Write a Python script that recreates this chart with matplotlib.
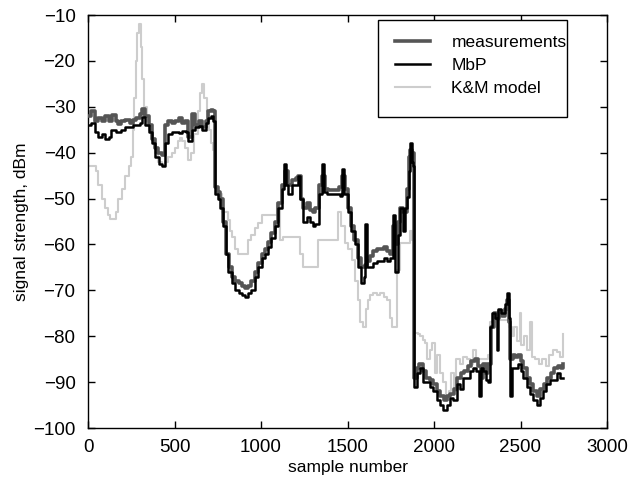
import matplotlib
matplotlib.use("Agg")
import matplotlib.pyplot as plt
from matplotlib.patches import Rectangle

plt.rcParams['font.family'] = ['Liberation Sans', 'DejaVu Sans']

meas_x = [0, 20, 40, 60, 80, 100, 120, 140, 160, 175, 190, 214, 240, 260, 280, 300, 315, 330, 350, 370,
          390, 405, 425, 445, 465, 485, 505, 525, 545, 561, 578, 600, 620, 640, 660, 680, 695, 710, 725, 735,
          750, 765, 780, 800, 815, 830, 850, 870, 890, 910, 925, 945, 965, 985, 1005, 1025, 1040, 1060, 1080, 1100,
          1120, 1140, 1156, 1179, 1200, 1214, 1230, 1245, 1265, 1285, 1300, 1315, 1335, 1352, 1370, 1390, 1410, 1430, 1450, 1468,
          1485, 1503, 1520, 1540, 1560, 1580, 1600, 1615, 1630, 1650, 1670, 1690, 1710, 1730, 1745, 1763, 1775, 1790, 1805, 1820,
          1844, 1855, 1862, 1870, 1882, 1884, 1900, 1915, 1935, 1955, 1975, 1995, 2015, 2035, 2055, 2075, 2095, 2115, 2135, 2155,
          2175, 2195, 2215, 2235, 2255, 2270, 2285, 2300, 2315, 2330, 2345, 2360, 2375, 2395, 2410, 2422, 2432, 2442, 2455, 2470,
          2485, 2500, 2515, 2535, 2555, 2575, 2595, 2615, 2635, 2655, 2675, 2695, 2715, 2735, 2745]
meas_y = [-32, -31, -33, -32.5, -33, -32, -33, -31.8, -33, -33.8, -33, -32.9, -33.5, -32.8, -32.4, -31.5, -30.5, -32, -34, -37,
          -39, -40, -40.5, -34, -33, -33.5, -33, -32.5, -33.5, -33, -36.6, -31.5, -34, -33, -34.5, -33, -31, -30.7, -31, -47.5,
          -48.5, -50, -55, -62, -65, -67, -68, -68.5, -69, -69.5, -69, -68, -66, -64, -62, -61, -59.5, -57.5, -55, -51,
          -47, -44, -47, -46, -45.5, -45, -50, -52, -51, -52.5, -53, -52, -47, -45, -48, -48.2, -48.2, -48.2, -47.5, -45,
          -48, -52, -56, -59, -63, -65, -64.5, -63.5, -62.5, -61.5, -61, -61, -60.5, -61.5, -62, -56, -60, -55, -52, -53,
          -48, -41, -39.5, -40, -43, -89, -87, -86, -87.5, -89, -89.5, -90.5, -92, -93, -94, -93, -92.5, -91.5, -89, -88,
          -87.5, -86.5, -85.5, -85, -86.5, -89, -86, -88, -86, -78, -75, -76, -74.5, -75.5, -74, -72, -77, -85, -84, -84.5,
          -84, -85.5, -87, -89, -90.5, -92, -93, -91.5, -90.5, -89, -88, -87, -86.5, -87, -86]

mbp_x = [0, 20, 40, 60, 80, 100, 120, 135, 160, 190, 214, 240, 260, 280, 300, 312, 330, 350, 370, 390,
         410, 428, 445, 465, 485, 505, 525, 545, 565, 578, 600, 620, 640, 660, 680, 695, 710, 725, 735, 750,
         765, 780, 795, 810, 830, 850, 870, 890, 910, 925, 945, 965, 985, 1005, 1025, 1040, 1060, 1080, 1100, 1120,
         1132, 1145, 1156, 1179, 1200, 1214, 1228, 1243, 1265, 1285, 1300, 1315, 1335, 1352, 1362, 1380, 1400, 1420, 1440, 1455,
         1468, 1480, 1503, 1520, 1543, 1560, 1580, 1595, 1601, 1612, 1630, 1647, 1670, 1690, 1710, 1730, 1745, 1763, 1774, 1790,
         1803, 1820, 1835, 1844, 1855, 1861, 1870, 1878, 1882, 1900, 1919, 1936, 1959, 1977, 1994, 2017, 2035, 2052, 2075, 2092,
         2110, 2133, 2150, 2168, 2190, 2210, 2225, 2245, 2258, 2270, 2283, 2300, 2312, 2325, 2335, 2350, 2364, 2370, 2385, 2399,
         2410, 2422, 2432, 2439, 2451, 2470, 2485, 2500, 2514, 2535, 2555, 2575, 2595, 2615, 2630, 2650, 2670, 2690, 2711, 2730,
         2745]
mbp_y = [-34, -33.5, -35.5, -36.5, -36, -37, -36.5, -35, -35.5, -35, -34.5, -34.5, -34, -34, -33.5, -32.2, -34, -35.5, -38, -41,
         -42.5, -43, -38, -36, -35.5, -35.5, -35.8, -35.2, -35.5, -37.4, -35, -34.5, -34.2, -35, -33.5, -32.5, -32, -33, -49, -50,
         -52, -56, -62, -66, -68.5, -70, -70.5, -71, -71.5, -70.5, -70, -67, -65, -63, -62, -60.5, -58.5, -56, -52, -48,
         -42.5, -47, -49, -47, -47, -45, -50, -55, -54, -55, -56, -55.5, -49, -42.5, -48.5, -49, -49, -49, -49, -49.5,
         -43.5, -49, -53, -57, -60, -65, -68.5, -67, -55.5, -65, -65, -64, -63.5, -63.5, -63, -63.5, -63, -53.6, -66, -58,
         -52, -57, -52, -49.6, -44, -38, -42, -43, -91, -88, -87, -90, -90, -91, -92, -94, -95, -96, -95, -93.5,
         -94, -90.5, -91.5, -89, -89, -87.5, -87, -87.5, -93, -87, -87.5, -89.5, -90, -78, -75, -76, -83, -74, -75, -75,
         -73, -70.6, -76, -93, -87, -87, -86, -87.5, -89, -91, -92.5, -94, -95, -93.5, -92, -90.5, -89.5, -89.5, -88, -89,
         -89]

km_x = [0, 20, 45, 60, 80, 100, 115, 127, 145, 160, 175, 195, 215, 235, 250, 258, 265, 275, 285, 295,
        305, 315, 325, 340, 355, 370, 387, 405, 425, 445, 465, 485, 505, 520, 531, 545, 560, 578, 595, 615,
        635, 650, 659, 670, 685, 700, 710, 722, 735, 750, 774, 790, 809, 820, 832, 850, 867, 890, 908, 925,
        945, 965, 983, 1005, 1030, 1050, 1070, 1092, 1110, 1125, 1140, 1160, 1180, 1200, 1214, 1228, 1243, 1265, 1290, 1312,
        1330, 1350, 1370, 1390, 1410, 1430, 1445, 1465, 1486, 1505, 1526, 1545, 1561, 1575, 1590, 1605, 1618, 1630, 1650, 1670,
        1690, 1710, 1728, 1745, 1757, 1774, 1786, 1803, 1825, 1844, 1861, 1875, 1888, 1905, 1919, 1936, 1950, 1960, 1975, 1990,
        2005, 2017, 2035, 2052, 2070, 2085, 2100, 2115, 2130, 2150, 2168, 2190, 2208, 2225, 2245, 2265, 2285, 2310, 2325, 2340,
        2355, 2381, 2400, 2422, 2435, 2450, 2465, 2480, 2495, 2505, 2520, 2537, 2555, 2565, 2585, 2605, 2625, 2645, 2665, 2688,
        2710, 2730, 2745]
km_y = [-43, -43, -44, -47, -50, -52, -53.5, -54.5, -54.5, -53, -50, -48, -45, -43, -41, -35, -28, -20, -14, -12,
        -17, -24, -30, -33, -35, -37, -40, -42, -43, -42, -41, -40, -39, -37.5, -36.8, -37.5, -39, -41.6, -40, -36,
        -31, -27, -25, -28, -31, -35, -38, -39.4, -47.5, -49, -53, -53, -54.7, -57, -58.4, -61, -62, -62, -62, -59,
        -58, -56.5, -55.3, -53.6, -53.6, -53.6, -53.6, -51, -59, -58.4, -58.4, -58.4, -58.4, -58.4, -58.4, -62, -65, -65, -65, -65,
        -59, -59, -59, -59, -59, -59, -53, -56, -59.7, -61, -63.4, -68, -72, -77, -78, -74, -72, -71, -70.5, -71,
        -70.5, -71.5, -72, -76, -78, -78, -65.5, -59.7, -59.7, -59.7, -57, -59, -79.3, -79.5, -80, -80.8, -81.5, -85, -83, -81.5,
        -88, -84, -88, -90, -94, -92, -88, -92, -85, -86, -84.5, -85, -86, -83, -85, -85, -85, -84, -77, -77,
        -76.5, -76.4, -76.4, -76.4, -78, -80, -78, -81, -75, -82, -80, -83, -77, -84.5, -85, -86, -85, -86.5, -84, -83,
        -83.5, -84.5, -79.5]

x_ticks = [0, 500, 1000, 1500, 2000, 2500, 3000]
y_ticks = [-100, -90, -80, -70, -60, -50, -40, -30, -20, -10]

W, H = 632, 482
fig = plt.figure(figsize=(W / 100, H / 100), dpi=100)
ax = fig.add_axes([88 / W, 1 - 428 / H, (607 - 88) / W, (428 - 15) / H])

ax.plot(km_x, km_y, drawstyle='steps-post', color='#cdcdcd', lw=1.5, zorder=2, label='K&M model')
ax.plot(meas_x, meas_y, drawstyle='steps-post', color='#555555', lw=2.6, zorder=3, label='measurements')
ax.plot(mbp_x, mbp_y, drawstyle='steps-post', color='black', lw=1.8, zorder=4, label='MbP')

ax.set_xlim(0, 3000)
ax.set_ylim(-100, -10)
ax.set_xticks(x_ticks)
ax.set_yticks(y_ticks)
ax.tick_params(direction='in', top=True, right=True, length=5, width=1, labelsize=13.5, pad=8)
ax.tick_params(axis='y', pad=9)
for s in ax.spines.values():
    s.set_linewidth(1.0)

ax.set_xlabel('sample number', fontsize=12.5, labelpad=3)
ax.set_ylabel('signal strength, dBm', fontsize=12.5, labelpad=3)

h, l = ax.get_legend_handles_labels()
order = [1, 2, 0]
leg = ax.legend([h[i] for i in order], [l[i] for i in order], loc='upper left',
                bbox_to_anchor=(395 / W, 1 - 35 / H), bbox_transform=fig.transFigure,
                fontsize=12.5, frameon=False,
                handlelength=2.0, handletextpad=1.25, labelspacing=0.45,
                borderpad=0, borderaxespad=0)
ax.add_patch(Rectangle((378 / W, 1 - 117 / H), (567 - 378) / W, (117 - 20) / H,
                       transform=fig.transFigure, facecolor='white', edgecolor='black',
                       lw=1.0, zorder=5, clip_on=False))
leg.set_zorder(6)

fig.savefig('out.png', dpi=100)
